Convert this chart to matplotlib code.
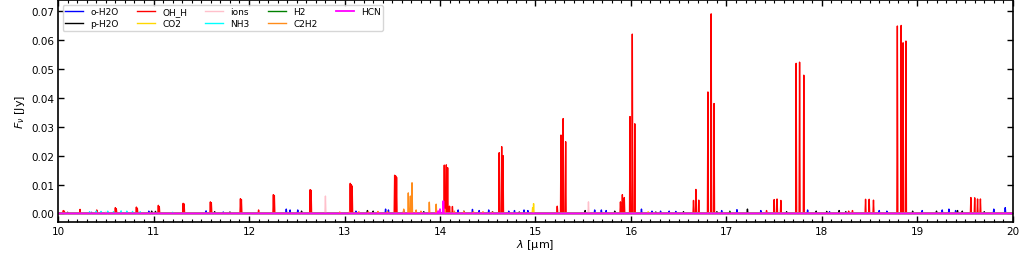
import numpy as np
import matplotlib
matplotlib.use("Agg")
import matplotlib.pyplot as plt
from matplotlib.ticker import MultipleLocator, FormatStrFormatter

# line centres [um] and peak fluxes [Jy], one pair per species
oh_lam = [10.055, 10.065, 10.23, 10.405, 10.60, 10.61, 10.82, 10.83, 11.05, 11.06,
          11.31, 11.32, 11.595, 11.605, 11.91, 11.92, 12.10, 12.255, 12.265, 12.64,
          12.65, 13.06, 13.07, 13.08, 13.525, 13.535, 13.545, 14.045, 14.066, 14.08,
          14.10, 14.13, 14.62, 14.646, 14.66, 15.228, 15.267, 15.29, 15.316, 15.89,
          15.91, 15.93, 15.99, 16.014, 16.04, 16.655, 16.68, 16.71, 16.806, 16.84,
          16.87, 17.42, 17.50, 17.53, 17.57, 17.73, 17.766, 17.81, 18.28, 18.32,
          18.457, 18.495, 18.54, 18.79, 18.83, 18.85, 18.88, 19.56, 19.60, 19.63, 19.66]
oh_flux = [0.0010, 0.0008, 0.0014, 0.0012, 0.0020, 0.0016, 0.0022, 0.0018, 0.0028, 0.0024,
           0.0035, 0.0033, 0.0040, 0.0037, 0.0051, 0.0048, 0.0012, 0.0065, 0.0062, 0.0082,
           0.0080, 0.0104, 0.0100, 0.0095, 0.0132, 0.0130, 0.0125, 0.0167, 0.0168, 0.0158,
           0.0025, 0.0024, 0.0210, 0.0231, 0.0200, 0.0025, 0.0271, 0.0328, 0.0248, 0.0040,
           0.0065, 0.0055, 0.0335, 0.0620, 0.0310, 0.0045, 0.0083, 0.0046, 0.0420, 0.0690,
           0.0380, 0.0010, 0.0048, 0.0050, 0.0045, 0.0519, 0.0523, 0.0478, 0.0008, 0.0010,
           0.0049, 0.0049, 0.0046, 0.0648, 0.0650, 0.0590, 0.0596, 0.0055, 0.0054, 0.0050, 0.0050]

oh2o_lam = [10.35, 10.95, 11.55, 11.73, 12.39, 12.43, 12.51, 13.12, 13.43, 13.46,
            13.62, 14.19, 14.34, 14.41, 14.51, 14.72, 14.78, 14.88, 14.92, 15.62,
            15.69, 15.74, 16.11, 16.22, 16.31, 16.40, 16.47, 16.95, 17.11, 17.36,
            17.85, 18.08, 18.60, 18.68, 19.05, 19.26, 19.33, 19.40, 19.80, 19.92]
oh2o_flux = [0.0004, 0.0008, 0.0009, 0.0005, 0.0015, 0.0012, 0.0012, 0.0008, 0.0015, 0.0012,
             0.0010, 0.0012, 0.0014, 0.0010, 0.0012, 0.0008, 0.0010, 0.0012, 0.0010, 0.0012,
             0.0012, 0.0010, 0.0015, 0.0008, 0.0008, 0.0008, 0.0007, 0.0010, 0.0013, 0.0010,
             0.0012, 0.0006, 0.0010, 0.0008, 0.0010, 0.0012, 0.0015, 0.0010, 0.0015, 0.0020]

ph2o_lam = [10.10, 10.52, 10.98, 11.02, 11.64, 11.80, 12.55, 13.24, 13.30, 13.83,
            14.25, 14.55, 14.83, 15.52, 15.83, 16.26, 16.55, 16.90, 17.22, 17.63,
            17.94, 18.05, 18.18, 18.25, 18.95, 19.20, 19.42, 19.47, 19.70]
ph2o_flux = [0.0004, 0.0003, 0.0008, 0.0007, 0.0006, 0.0005, 0.0008, 0.0010, 0.0008, 0.0006,
             0.0008, 0.0006, 0.0005, 0.0010, 0.0008, 0.0005, 0.0006, 0.0006, 0.0015, 0.0006,
             0.0008, 0.0007, 0.0010, 0.0006, 0.0008, 0.0008, 0.0010, 0.0008, 0.0006]

co2_lam = [14.97, 14.98, 16.18]
co2_flux = [0.0020, 0.0034, 0.0006]

ions_lam = [10.50, 12.80, 15.555]
ions_flux = [0.0005, 0.0060, 0.0040]

nh3_lam = [10.33, 10.40, 10.45, 10.52, 10.58, 10.66, 10.72, 10.78, 10.86, 11.20]
nh3_flux = [0.0006, 0.0008, 0.0007, 0.0008, 0.0006, 0.0009, 0.0008, 0.0007, 0.0006, 0.0004]

h2_lam = [14.00, 17.035]
h2_flux = [0.0008, 0.0008]

c2h2_lam = [12.95, 13.05, 13.15, 13.25, 13.35, 13.45, 13.62, 13.668, 13.69, 13.707,
            13.75, 13.80, 13.888, 13.96, 14.05, 14.15, 14.25, 14.35, 14.45, 14.55]
c2h2_flux = [0.0005, 0.0005, 0.0006, 0.0006, 0.0007, 0.0007, 0.0015, 0.0071, 0.0060, 0.0106,
             0.0012, 0.0008, 0.0039, 0.0032, 0.0015, 0.0008, 0.0007, 0.0006, 0.0006, 0.0005]

hcn_lam = [13.98, 14.00, 14.035]
hcn_flux = [0.0008, 0.0015, 0.0043]

species = [
    ("o-H2O", oh2o_lam, oh2o_flux, "blue"),
    ("p-H2O", ph2o_lam, ph2o_flux, "black"),
    ("OH_H", oh_lam, oh_flux, "red"),
    ("CO2", co2_lam, co2_flux, "gold"),
    ("ions", ions_lam, ions_flux, "pink"),
    ("NH3", nh3_lam, nh3_flux, "cyan"),
    ("H2", h2_lam, h2_flux, "green"),
    ("C2H2", c2h2_lam, c2h2_flux, "#ff8c1a"),
    ("HCN", hcn_lam, hcn_flux, "magenta"),
]


def spikes(lam, flux, hw=0.005):
    # narrow triangular profile around each line centre
    lam = np.asarray(lam)
    flux = np.asarray(flux)
    order = np.argsort(lam)
    lam, flux = lam[order], flux[order]
    x = np.column_stack([lam - hw, lam, lam + hw]).ravel()
    y = np.column_stack([np.zeros_like(flux), flux, np.zeros_like(flux)]).ravel()
    x = np.concatenate([[10.0], x, [20.0]])
    y = np.concatenate([[0.0], y, [0.0]])
    return x, y


fig = plt.figure(figsize=(10.19, 2.55), dpi=100)
ax = fig.add_axes([0.057, 0.125, 0.937, 0.870])

for name, lam, flux, col in species:
    x, y = spikes(lam, flux)
    lw = 1.3 if name == "HCN" else 1.0
    ax.plot(x, y, color=col, lw=lw, label=name)

ax.set_xlim(10, 20)
ax.set_ylim(-0.003, 0.0737)
ax.xaxis.set_major_locator(MultipleLocator(1))
ax.xaxis.set_minor_locator(MultipleLocator(0.1))
ax.yaxis.set_major_locator(MultipleLocator(0.01))
ax.yaxis.set_major_formatter(FormatStrFormatter("%.2f"))
ax.tick_params(which="both", direction="in", top=True, right=True, labelsize=7.5)
ax.tick_params(which="major", length=4, width=1.0, pad=2.5)
ax.tick_params(which="minor", length=2.2, width=0.8)
ax.tick_params(axis="y", which="minor", left=False, right=False)
for s in ax.spines.values():
    s.set_linewidth(1.2)

ax.set_xlabel(r"$\lambda$ [$\mathrm{\mu}$m]", fontsize=8, labelpad=1)
ax.set_ylabel(r"$F_\nu$ [Jy]", fontsize=8, labelpad=3)

ax.legend(loc="upper left", ncol=5, fontsize=6.5, handlelength=2.0,
          columnspacing=2.0, borderpad=0.3, labelspacing=0.3, framealpha=0.8)

fig.savefig("out.png", dpi=100)
